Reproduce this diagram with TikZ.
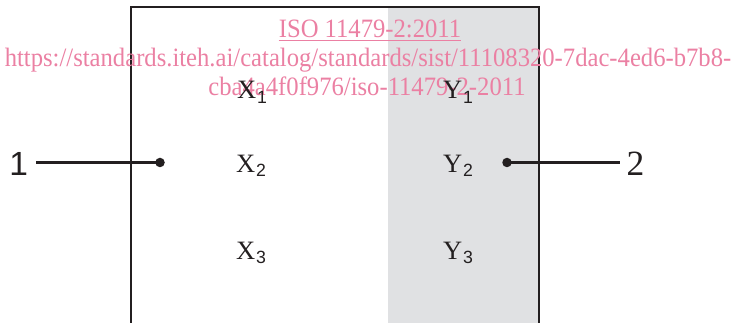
\documentclass[tikz,border=0pt]{standalone}
\usepackage{fontspec}
\setmainfont{Liberation Serif}
\newfontfamily\arialf{Liberation Sans}
\definecolor{wm}{RGB}{235,128,163}
\definecolor{greyzone}{RGB}{224,225,227}
\definecolor{ink}{RGB}{35,31,32}
\begin{document}
\begin{tikzpicture}[x=1pt,y=-1pt,
  lbl/.style={inner sep=0pt, anchor=base west, font=\rmfamily\fontsize{26.5}{30}\selectfont, text=ink},
  sublbl/.style={inner sep=0pt, anchor=base west, font=\arialf\fontsize{17.7}{20}\selectfont, text=ink},
  wmark/.style={inner sep=0pt, anchor=base, text=wm, font=\rmfamily\fontsize{26.5}{30}\selectfont},
  frame/.style={line width=2.2pt, draw=ink},
  leader/.style={line width=2.3pt, draw=ink},
  dotm/.style={circle, fill=ink, inner sep=0pt, minimum size=9.5pt}]
\useasboundingbox (0,0) rectangle (734,323);
% shaded zone and frame
\fill[greyzone] (388,7) rectangle (539,324);
\draw[frame] (131,324) -- (131,7) -- (539,7) -- (539,324);
% watermark
\node[wmark] (w1) at (370,37.7) {\scalebox{0.93}[1]{ISO 11479-2:2011}};
\draw[wm, line width=1.1pt] ([yshift=-3pt]w1.base west) -- ([yshift=-3pt]w1.base east);
\node[wmark] (w2) at (368,66.7) {\scalebox{0.93}[1]{https://standards.iteh.ai/catalog/standards/sist/11108320-7dac-4ed6-b7b8-}};
\node[wmark] (w3) at (367,96) {\scalebox{0.93}[1]{cba4a4f0f976/iso-11479-2-2011}};
% labels
\node[lbl] (x1) at (237,99) {X};
\node[sublbl] (x1s) at ([xshift=0.5pt,yshift=-4.3pt]x1.base east) {1};
\node[lbl] (x2) at (236,172.5) {X};
\node[sublbl] (x2s) at ([xshift=0.5pt,yshift=-4.3pt]x2.base east) {2};
\node[lbl] (x3) at (236,259.5) {X};
\node[sublbl] (x3s) at ([xshift=0.5pt,yshift=-4.3pt]x3.base east) {3};
\node[lbl] (y1) at (443,99) {Y};
\node[sublbl] (y1s) at ([xshift=0.5pt,yshift=-4.3pt]y1.base east) {1};
\node[lbl] (y2) at (443,172.5) {Y};
\node[sublbl] (y2s) at ([xshift=0.5pt,yshift=-4.3pt]y2.base east) {2};
\node[lbl] (y3) at (443,259.5) {Y};
\node[sublbl] (y3s) at ([xshift=0.5pt,yshift=-4.3pt]y3.base east) {3};
% leaders
\node[dotm] (d1) at (160,162.5) {};
\node[dotm] (d2) at (507,162.5) {};
\node[anchor=base east, inner sep=0pt, outer xsep=8pt, font=\arialf\fontsize{33.5}{36}\selectfont, text=ink] (n1) at (36,175.7) {1};
\node[anchor=base west, inner sep=0pt, outer xsep=7pt, font=\rmfamily\fontsize{35.5}{38}\selectfont, text=ink] (n2) at (619.5,175.7) {2};
\draw[leader] (n1.east |- d1.center) -- (d1.center);
\draw[leader] (d2.center) -- (n2.west |- d2.center);
\end{tikzpicture}
\end{document}
